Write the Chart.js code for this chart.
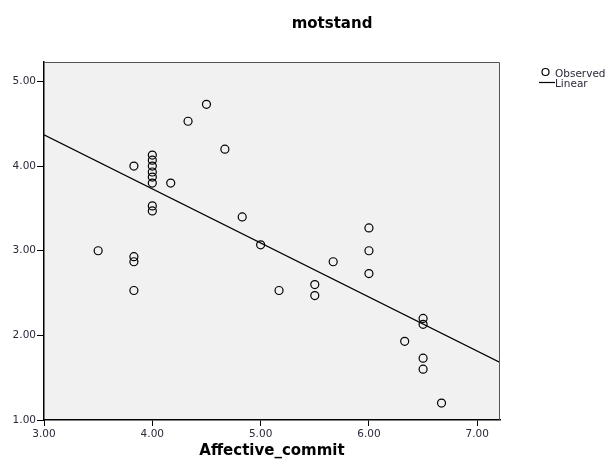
<!DOCTYPE html>
<html>
<head>
<meta charset="utf-8">
<script src="https://cdn.jsdelivr.net/npm/chart.js@4"></script>
<style>
  body { margin: 0; background: #fff; }
</style>
</head>
<body>
<canvas id="myChart" width="613" height="460"></canvas>
<script>
var affective = [3.50, 3.83, 3.83, 3.83, 3.83, 4.00, 4.00, 4.00, 4.00, 4.00, 4.00, 4.00, 4.00,
  4.17, 4.33, 4.50, 4.67, 4.83, 5.00, 5.17, 5.50, 5.50, 5.67, 6.00, 6.00, 6.00, 6.33,
  6.50, 6.50, 6.50, 6.50, 6.67];
var motstand = [3.00, 4.00, 2.93, 2.87, 2.53, 4.13, 4.07, 4.00, 3.93, 3.87, 3.80, 3.53, 3.47,
  3.80, 4.53, 4.73, 4.20, 3.40, 3.07, 2.53, 2.60, 2.47, 2.87, 3.27, 3.00, 2.73, 1.93,
  2.20, 2.13, 1.73, 1.60, 1.20];
// fitted linear line ends
var fitX = [3.00, 7.21];
var fitY = [4.37, 1.68];
var xTicks = [3, 4, 5, 6, 7];
var yTicks = [1, 2, 3, 4, 5];

var observedPts = affective.map(function (v, i) { return { x: v, y: motstand[i] }; });
var fitPts = fitX.map(function (v, i) { return { x: v, y: fitY[i] }; });

//background + frame + texts
var spssLook = {
  id: 'spssLook',
  beforeDraw: function (chart) {
    var c = chart.ctx, a = chart.chartArea;
    c.save();
    c.fillStyle = '#f1f1f1';
    c.fillRect(a.left, a.top, a.right - a.left, a.bottom - a.top);
    c.restore();
  },
  afterDraw: function (chart) {
    var c = chart.ctx, a = chart.chartArea;
    c.save();
    c.strokeStyle = '#555';
    c.lineWidth = 1;
    c.beginPath();
    c.moveTo(a.left, a.top + 0.5);
    c.lineTo(a.right - 0.5, a.top + 0.5);
    c.lineTo(a.right - 0.5, a.bottom);
    c.stroke();

    c.fillStyle = '#000';
    c.font = 'bold 15px "DejaVu Sans"';
    c.textAlign = 'center';
    c.textBaseline = 'alphabetic';
    c.fillText('motstand', 332, 28);

    // legend
    c.font = '10.5px "DejaVu Sans"';
    c.textAlign = 'left';
    c.fillStyle = '#2a2a3a';
    c.fillText('Observed', 555, 76.5);
    c.fillText('Linear', 555, 87);
    c.strokeStyle = '#000';
    c.lineWidth = 1.2;
    c.beginPath();
    c.arc(545.5, 72, 3.5, 0, Math.PI * 2);
    c.stroke();
    c.beginPath();
    c.moveTo(539, 82.5);
    c.lineTo(555, 82.5);
    c.stroke();
    c.restore();
  }
};

var ctx = document.getElementById('myChart').getContext('2d');
var myChart = new Chart(ctx, {
  type: 'scatter',
  data: {
    datasets: [
      {
        label: 'Observed',
        data: observedPts,
        pointRadius: 4,
        pointBorderWidth: 1.2,
        pointBorderColor: '#000',
        pointBackgroundColor: 'rgba(0,0,0,0)',
        showLine: false
      },
      {
        label: 'Linear',
        type: 'line',
        data: fitPts,
        borderColor: '#000',
        borderWidth: 1.2,
        pointRadius: 0,
        fill: false,
        tension: 0
      }
    ]
  },
  options: {
    responsive: false,
    animation: false,
    layout: { padding: { top: 62, right: 113, left: 0, bottom: 0 } },
    plugins: {
      legend: { display: false },
      tooltip: { enabled: false }
    },
    scales: {
      x: {
        type: 'linear',
        min: 3,
        max: 7.21,
        afterFit: function (s) { s.height = 40; },
        afterBuildTicks: function (s) { s.ticks = xTicks.map(function (v) { return { value: v }; }); },
        grid: { drawOnChartArea: false, drawTicks: true, tickLength: 6, color: '#000' },
        border: { color: '#000', width: 1.5 },
        ticks: {
          color: '#2a2a3a',
          padding: 2,
          font: { family: 'DejaVu Sans', size: 10.5 },
          callback: function (v) { return Number(v).toFixed(2); }
        },
        title: {
          display: true,
          text: 'Affective_commit',
          color: '#000',
          font: { family: 'DejaVu Sans', size: 15, weight: 'bold' },
          padding: { top: 0, bottom: 0 }
        }
      },
      y: {
        type: 'linear',
        min: 1,
        max: 5.23,
        afterFit: function (s) { s.width = 44; },
        afterBuildTicks: function (s) { s.ticks = yTicks.map(function (v) { return { value: v }; }); },
        grid: { drawOnChartArea: false, drawTicks: true, tickLength: 7, color: '#000' },
        border: { color: '#000', width: 1.5 },
        ticks: {
          color: '#2a2a3a',
          padding: 1,
          font: { family: 'DejaVu Sans', size: 10.5 },
          callback: function (v) { return Number(v).toFixed(2); }
        }
      }
    }
  },
  plugins: [spssLook]
});
</script>
</body>
</html>
